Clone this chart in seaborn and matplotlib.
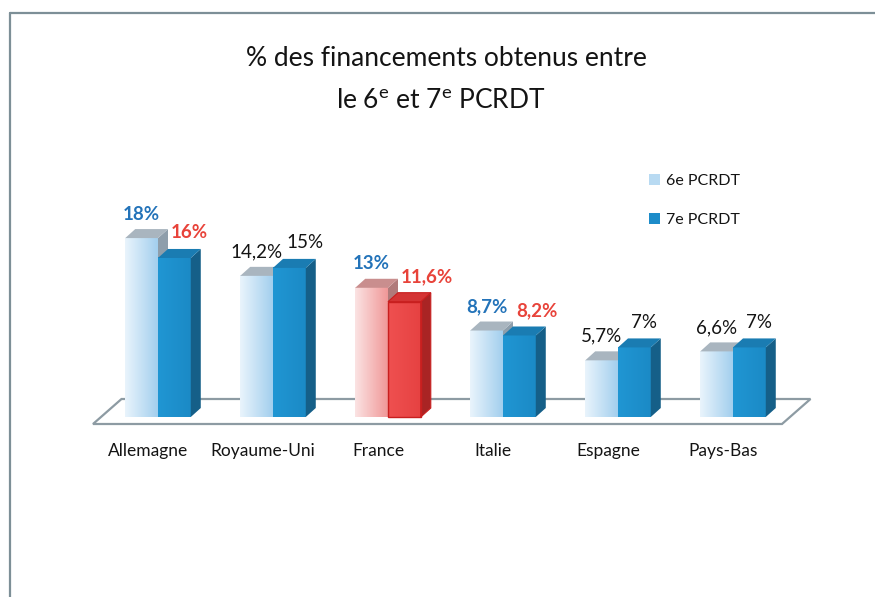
import numpy as np
import pandas as pd
import matplotlib
matplotlib.use("Agg")
import matplotlib.pyplot as plt
import seaborn as sns
from matplotlib.patches import Polygon, Patch
from matplotlib.lines import Line2D
from matplotlib.colors import LinearSegmentedColormap

# ---------------- data ----------------
countries = ["Allemagne", "Royaume-Uni", "France", "Italie", "Espagne", "Pays-Bas"]
series = ["6e PCRDT", "7e PCRDT"]
values_6e = [18, 14.2, 13, 8.7, 5.7, 6.6]
values_7e = [16, 15, 11.6, 8.2, 7, 7]
labels_6e = ["18%", "14,2%", "13%", "8,7%", "5,7%", "6,6%"]
labels_7e = ["16%", "15%", "11,6%", "8,2%", "7%", "7%"]
title_line1 = "% des financements obtenus entre"
title_line2 = r"le 6$^{\mathrm{e}}$ et 7$^{\mathrm{e}}$ PCRDT"

# ---------------- style ----------------
highlight = "France"
label_style_6e = ["blue", "plain", "blue", "blue", "plain", "plain"]
label_style_7e = ["red", "plain", "red", "red", "plain", "plain"]
TXT_COL = {"blue": "#2373b9", "red": "#e8433a", "plain": "#141414"}

sns.set_theme(style="white")
FONT = "Lato"
plt.rcParams["font.family"] = [FONT, "DejaVu Sans"]
plt.rcParams["mathtext.fontset"] = "custom"
plt.rcParams["mathtext.rm"] = FONT
plt.rcParams["mathtext.it"] = FONT
plt.rcParams["mathtext.bf"] = FONT

W, H = 875, 597
fig = plt.figure(figsize=(W / 100, H / 100), dpi=100)
fig.patch.set_facecolor("white")
ax = fig.add_axes([0, 0, 1, 1])

df = pd.DataFrame({
    "pays": countries * 2,
    "serie": [series[0]] * len(countries) + [series[1]] * len(countries),
    "val": values_6e + values_7e,
})
sns.barplot(data=df, x="pays", y="val", hue="serie", order=countries,
            hue_order=series, width=0.57, dodge=True, errorbar=None,
            saturation=1, legend=False, ax=ax)

# pixel scale of the axes (axes spans the whole figure)
PX = 115.0          # px per category
PY = 9.94           # px per percentage point
X0 = 158.0          # pixel x of first category
Y0 = 417.0          # pixel y (from top) of value 0
xlim = (-X0 / PX, (W - X0) / PX)
ylim = (-(H - Y0) / PY, Y0 / PY)

DX, DY = 10 / PX, 9 / PY   # bar depth

pal = {
    "blue": dict(front6=("#e9f4fc", "#a3cfee"), top6="#a9b5bf", side6="#8e9eab",
                 front7=("#2096d3", "#1b8ac6"), top7="#1a7cb2", side7="#155f88"),
    "red": dict(front6=("#fbe3e3", "#f09898"), top6="#c98e8e", side6="#b07a7a",
                front7=("#ef5050", "#e64242"), top7="#d43434", side7="#a92424",
                edge7="#c81f1f"),
}

cont6, cont7 = ax.containers[0], ax.containers[1]

def draw_bar(rect, fcols, topc, sidec, edgec, z):
    x, w, h = rect.get_x(), rect.get_width(), rect.get_height()
    cmap = LinearSegmentedColormap.from_list("g", list(fcols))
    grad = np.linspace(0, 1, 64).reshape(1, -1)
    ax.imshow(grad, extent=(x, x + w, 0, h), cmap=cmap, aspect="auto",
              zorder=z, interpolation="bilinear")
    rect.set_facecolor("none")
    rect.set_edgecolor(edgec if edgec else "none")
    rect.set_linewidth(1.0 if edgec else 0)
    rect.set_zorder(z + 0.05)
    top = Polygon([(x, h), (x + w, h), (x + w + DX, h + DY), (x + DX, h + DY)],
                  closed=True, facecolor=topc, edgecolor="none", zorder=z)
    side = Polygon([(x + w, 0), (x + w + DX, DY), (x + w + DX, h + DY), (x + w, h)],
                   closed=True, facecolor=sidec, edgecolor="none", zorder=z)
    ax.add_patch(side)
    ax.add_patch(top)
    if edgec:
        for poly in (top, side):
            poly.set_edgecolor(edgec)
            poly.set_linewidth(0.8)

for i, c in enumerate(countries):
    p = pal["red"] if c == highlight else pal["blue"]
    r6, r7 = cont6.patches[i], cont7.patches[i]
    draw_bar(r6, p["front6"], p["top6"], p["side6"], None, 2)
    draw_bar(r7, p["front7"], p["top7"], p["side7"], p.get("edge7"), 3)

    # value labels
    s6 = label_style_6e[i]
    ax.text(r6.get_x() + r6.get_width() / 2, r6.get_height() + DY + 15 / PY,
            labels_6e[i], ha="center", va="center", fontsize=13.5,
            color=TXT_COL[s6], fontweight="bold" if s6 != "plain" else "normal",
            zorder=6)
    s7 = label_style_7e[i]
    ax.text(r7.get_x() + 13 / PX, r7.get_height() + DY + 16 / PY,
            labels_7e[i], ha="left", va="center", fontsize=13.5,
            color=TXT_COL[s7], fontweight="bold" if s7 != "plain" else "normal",
            zorder=6)

    # category label
    ax.text(i - 10 / PX, (Y0 - 451) / PY, c, ha="center", va="center",
            fontsize=12.5, color="#141414")

# floor (decoration)
n = len(countries)
fl_front_y, fl_back_y = (Y0 - 424) / PY, (Y0 - 399) / PY
fl_l = -65 / PX
fl_r = (n - 1) + 49 / PX
fl_dx = 28.5 / PX
floor = Polygon([(fl_l, fl_front_y), (fl_r, fl_front_y),
                 (fl_r + fl_dx, fl_back_y), (fl_l + fl_dx, fl_back_y)],
                closed=True, facecolor="white", edgecolor="#8d9ba3",
                linewidth=1.6, zorder=1)
ax.add_patch(floor)

ax.set_xlim(*xlim)
ax.set_ylim(*ylim)
ax.axis("off")

# legend
handles = [Patch(facecolor="#b8daf2", edgecolor="none"),
           Patch(facecolor="#1d8cc9", edgecolor="none")]
leg = ax.legend(handles, series, loc="upper left",
                bbox_to_anchor=(649 / W, 1 - 174 / H), bbox_transform=fig.transFigure,
                frameon=False, fontsize=11.5, handlelength=0.7, handleheight=0.7,
                handletextpad=0.35, labelspacing=1.55, borderpad=0, borderaxespad=0)
for t in leg.get_texts():
    t.set_color("#141414")

# title
fig.text(446 / W, 1 - 58 / H, title_line1, ha="center", va="center",
         fontsize=19, color="#141414")
fig.text(441 / W, 1 - 100 / H, title_line2, ha="center", va="center",
         fontsize=19, color="#141414")

# frame
fc = "#7d8f97"
fig.add_artist(Line2D([9.5 / W, 1], [1 - 13 / H, 1 - 13 / H], color=fc, lw=1.6,
                      transform=fig.transFigure))
fig.add_artist(Line2D([9.5 / W, 9.5 / W], [1 - 13 / H, 0], color=fc, lw=1.6,
                      transform=fig.transFigure))

fig.savefig("out.png", dpi=100, facecolor="white")
